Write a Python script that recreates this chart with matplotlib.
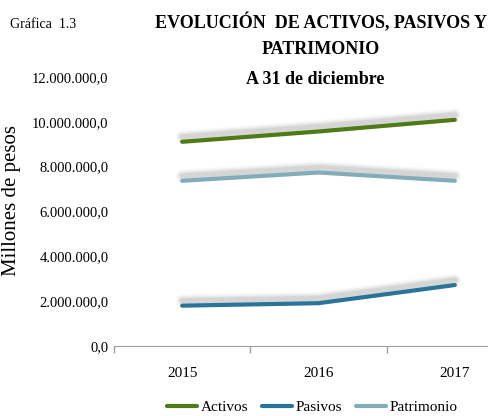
import matplotlib
matplotlib.use("Agg")
import matplotlib.pyplot as plt
import matplotlib.transforms as mtransforms
from matplotlib.ticker import FuncFormatter

# data (millones de pesos)
years = ["2015", "2016", "2017"]
activos = [9110000, 9570000, 10090000]
pasivos = [1800000, 1910000, 2720000]
patrimonio = [7370000, 7740000, 7370000]

series = [("Activos", activos, "#4e7a17"),
          ("Pasivos", pasivos, "#2b7499"),
          ("Patrimonio", patrimonio, "#82acba")]

plt.rcParams['font.family'] = ['Liberation Serif', 'DejaVu Serif']

fig = plt.figure(figsize=(4.89, 4.16), dpi=100)
W, H = 489, 416
ax = fig.add_axes([114 / W, 1 - 346 / H, (523 - 114) / W, (346 - 77) / H])

x = list(range(len(years)))

# soft gray shadow above each line
for name, vals, col in series:
    for lw, a in [(9, 0.06), (7, 0.08), (5, 0.10), (3.5, 0.12)]:
        tr = mtransforms.offset_copy(ax.transData, fig=fig, x=0, y=3.5, units='points')
        ax.plot(x, vals, color='#808080', lw=lw, alpha=a, transform=tr,
                solid_capstyle='round', zorder=1)
for name, vals, col in series:
    ax.plot(x, vals, color=col, lw=3, label=name, solid_capstyle='round', zorder=3)

ax.set_xlim(-0.5, 2.5)
ax.set_ylim(0, 12000000)
ax.set_yticks(range(0, 12000001, 2000000))
ax.yaxis.set_major_formatter(FuncFormatter(
    lambda v, p: "{:,.1f}".format(v).replace(",", "X").replace(".", ",").replace("X", ".")))
ax.tick_params(axis='y', length=0, pad=4, labelsize=10.5)

ax.set_xticks([-0.5, 0.5, 1.5, 2.5])
ax.set_xticklabels([])
ax.set_xticks(x, minor=True)
ax.set_xticklabels(years, minor=True)
ax.tick_params(axis='x', which='major', length=5, color='#a0a0a0', width=1)
ax.tick_params(axis='x', which='minor', length=0, pad=15, labelsize=11)

for s in ['top', 'right', 'left']:
    ax.spines[s].set_visible(False)
ax.spines['bottom'].set_color('#a0a0a0')

fig.text(12 / W, 1 - 201 / H, "Millones de pesos", rotation=90, ha='center', va='center',
         fontsize=15)
fig.text(10 / W, 1 - 24 / H, "Gráfica  1.3", ha='left', va='center', fontsize=10)
fig.text(321 / W, 1 - 23 / H, "EVOLUCIÓN  DE ACTIVOS, PASIVOS Y", ha='center', va='center',
         fontsize=13, fontweight='bold')
fig.text(321 / W, 1 - 50 / H, "PATRIMONIO", ha='center', va='center',
         fontsize=13, fontweight='bold')
fig.text(315 / W, 1 - 80 / H, "A 31 de diciembre", ha='center', va='center',
         fontsize=13, fontweight='bold')

fig.legend(loc='center', bbox_to_anchor=(312 / W, 1 - 407 / H), ncol=3, frameon=False,
           fontsize=11, handlelength=2.0, handletextpad=0.2, columnspacing=0.9)

fig.savefig("out.png", dpi=100)
